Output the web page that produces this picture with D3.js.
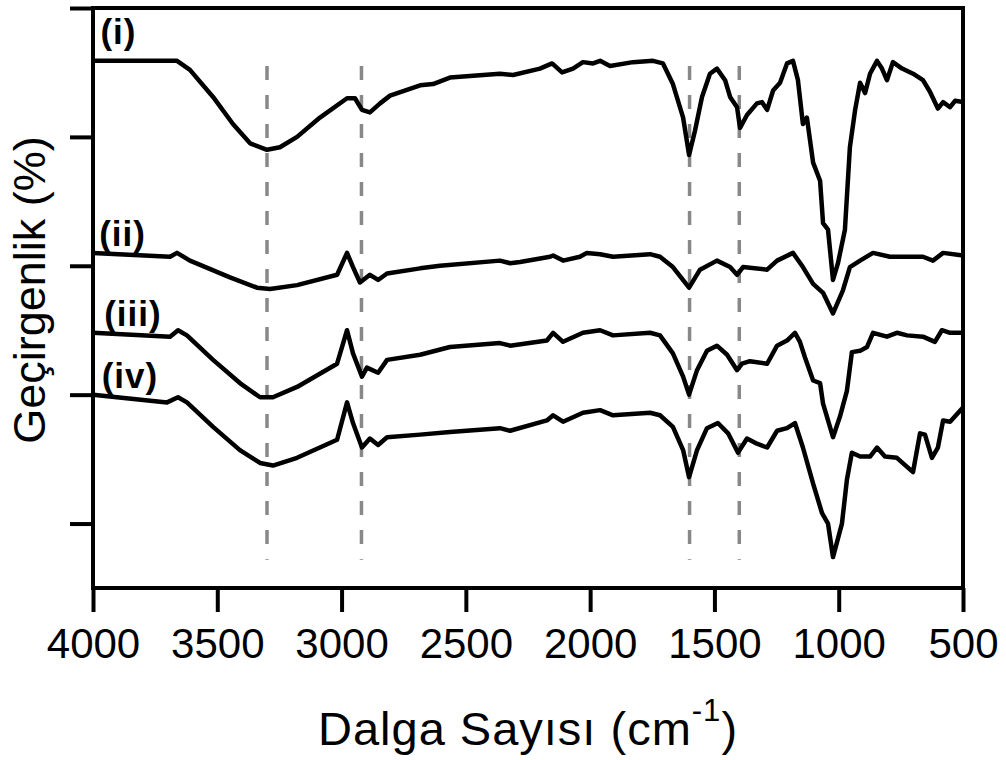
<!DOCTYPE html>
<html>
<head>
<meta charset="utf-8">
<script src="https://cdn.jsdelivr.net/npm/d3@7"></script>
<style>
  body { margin: 0; background: #fff; }
  text { font-family: "Liberation Sans", Arial, sans-serif; fill: #000; }
  .lbl { font-weight: bold; font-size: 35px; letter-spacing: 1px; }
</style>
</head>
<body>
<script>
// wavenumber (cm-1) vs. transmittance (offset, a.u.)
var seriesI = [[4000,4.09],[3662,4.09],[3610,4.02],[3517,3.81],[3437,3.60],[3368,3.45],[3300,3.40],[3248,3.42],[3179,3.50],[3087,3.65],[2978,3.80],[2946,3.80],[2918,3.71],[2886,3.69],[2845,3.76],[2805,3.82],[2684,3.90],[2632,3.91],[2564,3.96],[2363,3.99],[2310,3.98],[2202,4.03],[2153,4.07],[2113,4.00],[2069,4.03],[2029,4.08],[1988,4.07],[1960,4.09],[1920,4.05],[1828,4.08],[1747,4.09],[1707,4.07],[1667,3.91],[1626,3.65],[1602,3.36],[1578,3.55],[1550,3.81],[1518,3.99],[1490,4.03],[1457,3.94],[1437,3.81],[1409,3.73],[1397,3.57],[1369,3.67],[1329,3.76],[1309,3.77],[1288,3.71],[1264,3.86],[1236,3.92],[1208,4.07],[1184,4.09],[1164,3.94],[1144,3.60],[1128,3.65],[1103,3.30],[1075,3.16],[1063,2.83],[1043,2.78],[1023,2.39],[1003,2.52],[975,2.78],[955,3.42],[934,3.71],[914,3.92],[894,3.84],[874,3.99],[846,4.09],[826,4.03],[806,3.94],[782,4.08],[745,4.03],[701,3.99],[661,3.94],[633,3.85],[601,3.72],[580,3.77],[552,3.73],[532,3.78],[500,3.77]];
var seriesII = [[4000,2.60],[3690,2.57],[3662,2.60],[3610,2.54],[3449,2.41],[3340,2.33],[3288,2.32],[3179,2.35],[3018,2.43],[2978,2.60],[2954,2.49],[2926,2.37],[2886,2.43],[2853,2.39],[2817,2.44],[2684,2.48],[2604,2.50],[2363,2.54],[2322,2.52],[2282,2.53],[2161,2.57],[2149,2.58],[2109,2.54],[2041,2.57],[2013,2.60],[1960,2.59],[1908,2.57],[1759,2.59],[1719,2.57],[1667,2.49],[1602,2.33],[1558,2.47],[1490,2.54],[1437,2.49],[1409,2.43],[1385,2.49],[1288,2.47],[1248,2.54],[1184,2.60],[1144,2.49],[1103,2.36],[1063,2.29],[1023,2.13],[983,2.31],[955,2.49],[914,2.54],[862,2.60],[794,2.57],[661,2.57],[621,2.54],[580,2.60],[500,2.58]];
var seriesIII = [[4000,1.98],[3690,1.95],[3658,2.00],[3622,1.96],[3517,1.77],[3409,1.59],[3328,1.48],[3276,1.48],[3179,1.56],[3018,1.74],[2978,2.00],[2954,1.82],[2918,1.64],[2898,1.71],[2853,1.67],[2817,1.77],[2684,1.81],[2564,1.87],[2363,1.90],[2322,1.88],[2174,1.92],[2149,1.98],[2109,1.91],[2029,1.98],[1960,2.00],[1908,1.96],[1759,1.98],[1719,1.96],[1667,1.82],[1626,1.64],[1602,1.50],[1570,1.69],[1530,1.84],[1490,1.88],[1449,1.81],[1409,1.69],[1389,1.74],[1357,1.76],[1288,1.74],[1248,1.88],[1208,1.92],[1176,1.98],[1156,1.91],[1136,1.79],[1103,1.61],[1075,1.59],[1063,1.43],[1023,1.17],[995,1.33],[967,1.53],[947,1.83],[914,1.84],[886,1.87],[862,1.98],[806,1.95],[766,1.98],[725,1.96],[661,1.95],[613,1.91],[585,2.00],[552,1.98],[500,1.98]];
var seriesIV = [[4000,1.50],[3702,1.44],[3658,1.48],[3622,1.44],[3517,1.25],[3409,1.07],[3328,0.97],[3276,0.95],[3179,1.01],[3018,1.15],[2978,1.44],[2954,1.28],[2918,1.09],[2886,1.16],[2853,1.11],[2817,1.17],[2684,1.19],[2564,1.21],[2363,1.24],[2322,1.22],[2174,1.30],[2149,1.34],[2109,1.29],[2029,1.36],[1960,1.38],[1908,1.34],[1759,1.36],[1719,1.34],[1667,1.25],[1626,1.07],[1602,0.86],[1570,1.07],[1530,1.24],[1486,1.28],[1445,1.20],[1405,1.05],[1369,1.16],[1329,1.12],[1288,1.09],[1248,1.22],[1208,1.24],[1176,1.28],[1144,1.09],[1103,0.81],[1067,0.58],[1043,0.50],[1023,0.24],[987,0.50],[967,0.84],[947,1.05],[914,1.02],[874,1.02],[846,1.09],[814,1.02],[766,1.01],[725,0.94],[701,0.90],[673,1.20],[653,1.19],[625,1.01],[601,1.09],[580,1.30],[552,1.29],[500,1.40]];
var seriesNames = ['(i)', '(ii)', '(iii)', '(iv)'];
var labelAt = [[3970, 4.22], [3975, 2.65], [3955, 2.03], [3965, 1.55]];
var xTicks = [4000, 3500, 3000, 2500, 2000, 1500, 1000, 500];
var yTicks = [0.5, 1.5, 2.5, 3.5, 4.5];
var bandLines = [3300, 2920, 1600, 1400];
var bandSpan = [0.22, 4.05];

var w = 1006, h = 760;
var m = { left: 93, right: 43, top: 8, bottom: 172 };

var svg = d3.select('body').append('svg')
    .attr('width', w)
    .attr('height', h);

var x = d3.scaleLinear().domain([4000, 500]).range([m.left, w - m.right]);
var y = d3.scaleLinear().domain([0, 4.5]).range([h - m.bottom, m.top]);

// dashed guide lines
svg.append('g').selectAll('line')
    .data(bandLines)
    .enter().append('line')
    .attr('x1', function(d) { return x(d); })
    .attr('x2', function(d) { return x(d); })
    .attr('y1', y(bandSpan[1]))
    .attr('y2', y(bandSpan[0]))
    .attr('stroke', '#888')
    .attr('stroke-width', 3.5)
    .attr('stroke-dasharray', '14,15');

// spectra
var line = d3.line()
    .x(function(d) { return x(d[0]); })
    .y(function(d) { return y(d[1]); });

svg.append('g').selectAll('path')
    .data([seriesI, seriesII, seriesIII, seriesIV])
    .enter().append('path')
    .attr('d', line)
    .attr('fill', 'none')
    .attr('stroke', '#000')
    .attr('stroke-width', 4.5)
    .attr('stroke-linejoin', 'round');

svg.append('g').selectAll('text')
    .data(seriesNames)
    .enter().append('text')
    .attr('class', 'lbl')
    .attr('x', function(d, i) { return x(labelAt[i][0]); })
    .attr('y', function(d, i) { return y(labelAt[i][1]); })
    .text(function(d) { return d; });

// axes
var xAxis = d3.axisBottom(x)
    .tickValues(xTicks)
    .tickSize(24)
    .tickSizeOuter(0)
    .tickPadding(16)
    .tickFormat(d3.format('d'));
var gx = svg.append('g')
    .attr('transform', 'translate(0,' + (h - m.bottom) + ')')
    .call(xAxis);
gx.select('.domain').remove();
gx.selectAll('line').attr('stroke', '#000').attr('stroke-width', 4);
gx.selectAll('text').style('font-size', '42px')
    .style('font-family', '"Liberation Sans", Arial, sans-serif');

var yAxis = d3.axisLeft(y)
    .tickValues(yTicks)
    .tickSize(23)
    .tickSizeOuter(0)
    .tickFormat('');
var gy = svg.append('g')
    .attr('transform', 'translate(' + m.left + ',0)')
    .call(yAxis);
gy.select('.domain').remove();
gy.selectAll('line').attr('stroke', '#000').attr('stroke-width', 4);

// frame
svg.append('rect')
    .attr('x', m.left)
    .attr('y', m.top)
    .attr('width', w - m.left - m.right)
    .attr('height', h - m.top - m.bottom)
    .attr('fill', 'none')
    .attr('stroke', '#000')
    .attr('stroke-width', 4);

// titles
var xt = svg.append('text')
    .attr('x', (m.left + w - m.right) / 2)
    .attr('y', 745)
    .attr('text-anchor', 'middle')
    .style('font-size', '47px')
    .style('letter-spacing', '1px');
xt.append('tspan').text('Dalga Sayısı (cm');
xt.append('tspan').attr('dy', -24).style('font-size', '31px').text('-1');
xt.append('tspan').attr('dy', 24).text(')');

svg.append('text')
    .attr('transform', 'translate(45,' + 290 + ') rotate(-90)')
    .attr('text-anchor', 'middle')
    .style('font-size', '45px')
    .text('Geçirgenlik (%)');
</script>
</body>
</html>
